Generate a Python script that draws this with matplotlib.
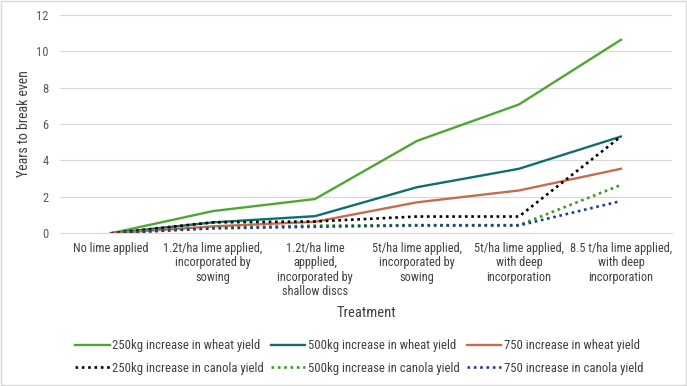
import matplotlib.pyplot as plt

plt.rcParams['font.family'] = ['Roboto Condensed', 'Carlito', 'DejaVu Sans']

treatments = [
    'No lime applied',
    '1.2t/ha lime applied,\nincorporated by\nsowing',
    '1.2t/ha lime\nappplied,\nincorporated by\nshallow discs',
    '5t/ha lime applied,\nincorporated by\nsowing',
    '5t/ha lime applied,\nwith deep\nincorporation',
    '8.5 t/ha lime applied,\nwith deep\nincorporation',
]

wheat_250 = [0, 1.22, 1.88, 5.07, 7.07, 10.62]
wheat_500 = [0, 0.6, 0.94, 2.53, 3.54, 5.31]
wheat_750 = [0, 0.38, 0.63, 1.7, 2.35, 3.54]
canola_250 = [0, 0.6, 0.65, 0.92, 0.92, 5.31]
canola_500 = [0, 0.3, 0.42, 0.45, 0.45, 2.65]
canola_750 = [0, 0.27, 0.36, 0.43, 0.43, 1.77]

fig = plt.figure(figsize=(6.87, 3.86), dpi=100)
ax = fig.add_axes([0.0873, 0.3956, 0.8907, 0.5664])
x = range(len(treatments))

dots = (0, (1, 1.4))
ax.plot(x, wheat_250, color='#4ea72e', lw=1.7, label='250kg increase in wheat yield', zorder=3)
ax.plot(x, canola_250, color='#000000', lw=1.9, ls=dots, label='250kg increase in canola yield', zorder=4)
ax.plot(x, wheat_500, color='#0e6f6d', lw=1.7, label='500kg increase in wheat yield', zorder=3)
ax.plot(x, canola_500, color='#3c9a22', lw=1.9, ls=dots, label='500kg increase in canola yield', zorder=4)
ax.plot(x, wheat_750, color='#c76a4e', lw=1.7, label='750 increase in wheat yield', zorder=3)
ax.plot(x, canola_750, color='#1f3d8c', lw=1.9, ls=dots, label='750 increase in canola yield', zorder=4)

ax.set_xlim(-0.5, 5.5)
ax.set_ylim(0, 12)
ax.set_yticks(range(0, 13, 2))
ax.set_xticks(list(x))
ax.set_xticklabels(treatments, fontsize=8.8, color='#404040', linespacing=1.15)
ax.tick_params(axis='y', labelsize=9, labelcolor='#595959', length=0, pad=8)
ax.tick_params(axis='x', length=0, pad=6)
ax.grid(axis='y', color='#d9d9d9', lw=0.8)
ax.set_axisbelow(True)
for s in ['top', 'right', 'left']:
    ax.spines[s].set_visible(False)
ax.spines['bottom'].set_color('#d9d9d9')

ax.set_ylabel('Years to break even', fontsize=10, color='#404040', labelpad=4)
ax.set_xlabel('Treatment', fontsize=10.5, color='#404040', labelpad=6)

fig.legend(loc='upper left', bbox_to_anchor=(75 / 687, 1 - 339 / 386), ncol=3, frameon=False,
           borderpad=0, borderaxespad=0,
           fontsize=9.2, labelcolor='#404040', handlelength=2.7, handletextpad=0.2,
           columnspacing=0.55, labelspacing=0.75)

fig.patches.append(plt.Rectangle((0.001, 0.002), 0.997, 0.995, transform=fig.transFigure,
                                 fill=False, edgecolor='#d9d9d9', lw=1))

fig.savefig('out.png', dpi=100)
